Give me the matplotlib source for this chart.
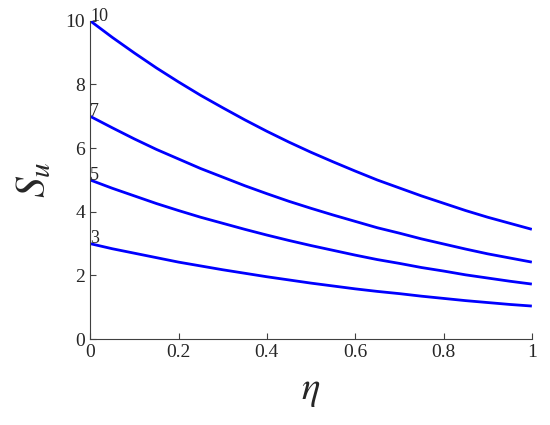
import matplotlib
matplotlib.use("Agg")
import matplotlib.pyplot as plt

plt.rcParams['font.family'] = ['Liberation Serif', 'DejaVu Serif']
plt.rcParams['mathtext.fontset'] = 'stix'

# values at eta = 0, 0.05, ..., 1
eta = [0.0, 0.05, 0.1, 0.15, 0.2, 0.25, 0.3, 0.35, 0.4, 0.45, 0.5,
       0.55, 0.6, 0.65, 0.7, 0.75, 0.8, 0.85, 0.9, 0.95, 1.0]
su_10 = [10.0, 9.48, 8.99, 8.52, 8.08, 7.66, 7.27, 6.89, 6.53, 6.19, 5.87,
         5.57, 5.28, 5.00, 4.75, 4.50, 4.27, 4.04, 3.83, 3.64, 3.45]
su_7 = [7.0, 6.64, 6.29, 5.96, 5.66, 5.36, 5.09, 4.82, 4.57, 4.33, 4.11,
        3.90, 3.70, 3.50, 3.33, 3.15, 2.99, 2.83, 2.68, 2.55, 2.42]
su_5 = [5.0, 4.74, 4.50, 4.26, 4.04, 3.83, 3.64, 3.45, 3.27, 3.10, 2.94,
        2.79, 2.64, 2.50, 2.38, 2.25, 2.14, 2.02, 1.92, 1.82, 1.73]
su_3 = [3.0, 2.84, 2.70, 2.56, 2.42, 2.30, 2.18, 2.07, 1.96, 1.86, 1.76,
        1.67, 1.58, 1.50, 1.43, 1.35, 1.28, 1.21, 1.15, 1.09, 1.04]
curve_labels = ['10', '7', '5', '3']

fig = plt.figure(figsize=(5.5, 4.25), dpi=100)
ax = fig.add_axes([0.164, 0.202, 0.803, 0.749])

for ys, lab in zip([su_10, su_7, su_5, su_3], curve_labels):
    ax.plot(eta, ys, color=(0, 0, 1), lw=2.0, solid_capstyle='butt')
    ax.text(eta[0], ys[0] + 0.15, lab, fontsize=13, color='#262626',
            ha='left', va='center')

ax.set_xlim(0, 1)
ax.set_ylim(0, 10)
ax.set_xticks([0, 0.2, 0.4, 0.6, 0.8, 1])
ax.set_xticklabels(['0', '0.2', '0.4', '0.6', '0.8', '1'])
ax.set_yticks([0, 2, 4, 6, 8, 10])

ax.spines['top'].set_visible(False)
ax.spines['right'].set_visible(False)
for s in ['left', 'bottom']:
    ax.spines[s].set_color('#404040')
    ax.spines[s].set_linewidth(0.8)
ax.tick_params(direction='in', length=4, width=0.8, colors='#404040',
               labelsize=14, labelcolor='#262626')

ax.set_xlabel(r'$\eta$', fontsize=28, color='#262626', labelpad=8)
ax.set_ylabel(r'$S_u$', fontsize=30, color='#262626', labelpad=8)

fig.savefig('out.png', dpi=100)
